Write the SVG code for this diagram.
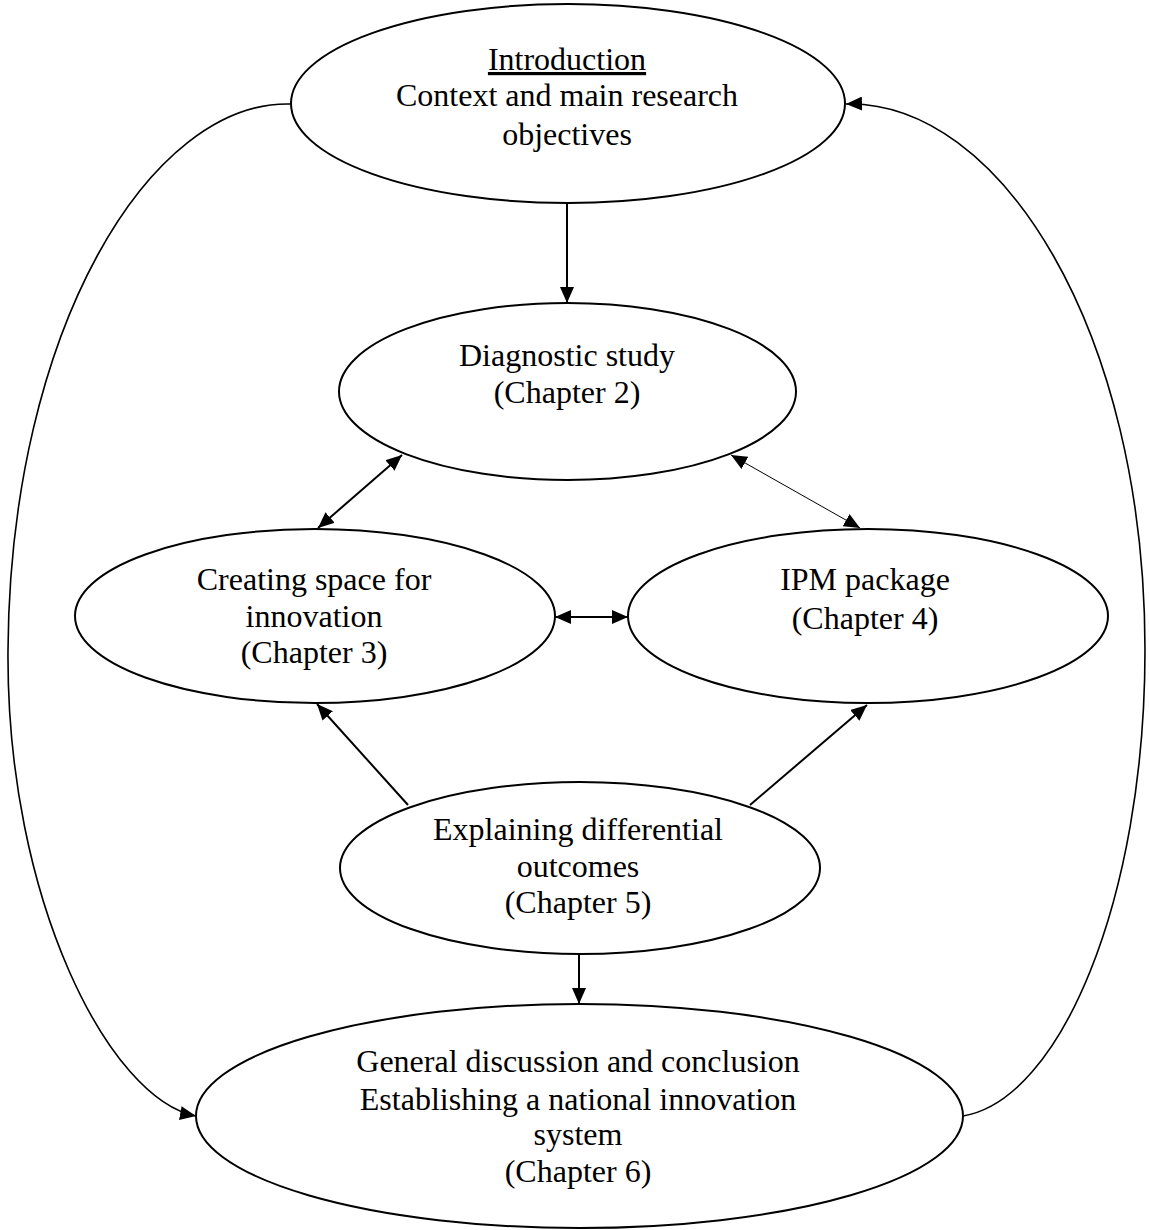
<svg xmlns="http://www.w3.org/2000/svg" width="1149" height="1230" viewBox="0 0 1149 1230">
  <style>
    .node ellipse { fill: #ffffff; stroke: #000000; stroke-width: 2; }
    .node text { font-family: "Liberation Serif", "Times New Roman", serif; font-size: 32px; fill: #000000; text-anchor: middle; }
    .edge { fill: none; stroke: #000000; stroke-width: 2; }
    .thin { stroke-width: 1; }
    .loop { stroke-width: 1.6; }
  </style>
  <defs>
    <marker id="arrow" markerUnits="userSpaceOnUse" markerWidth="16" markerHeight="14" viewBox="0 0 16 14" refX="16" refY="7" orient="auto-start-reverse">
      <path d="M0,0 L16,7 L0,14 z" fill="#000000"/>
    </marker>
  </defs>

  <rect width="1149" height="1230" fill="#ffffff"/>

  <!-- connectors -->
  <g id="connectors">
    <!-- introduction to diagnostic study -->
    <line class="edge" x1="567" y1="203" x2="567" y2="303" marker-end="url(#arrow)"/>
    <!-- diagnostic study <-> creating space -->
    <line class="edge" x1="402" y1="455" x2="318" y2="528" marker-start="url(#arrow)" marker-end="url(#arrow)"/>
    <!-- diagnostic study <-> IPM package -->
    <line class="edge thin" x1="731" y1="455" x2="860" y2="528" marker-start="url(#arrow)" marker-end="url(#arrow)"/>
    <!-- creating space <-> IPM package -->
    <line class="edge" x1="555" y1="617" x2="628" y2="617" marker-start="url(#arrow)" marker-end="url(#arrow)"/>
    <!-- differential outcomes to chapters 3 and 4 -->
    <line class="edge" x1="408" y1="805" x2="317" y2="704" marker-end="url(#arrow)"/>
    <line class="edge" x1="750" y1="805" x2="867" y2="705" marker-end="url(#arrow)"/>
    <!-- differential outcomes to general discussion -->
    <line class="edge" x1="579" y1="954" x2="579" y2="1004" marker-end="url(#arrow)"/>
    <!-- outer loop: introduction to general discussion -->
    <path class="edge loop" d="M291,104 C150,100 10,330 8,650 C6,900 110,1100 196,1116" marker-end="url(#arrow)"/>
    <!-- outer loop: general discussion back to introduction -->
    <path class="edge loop" d="M963,1116 C1060,1100 1145,900 1145,650 C1145,330 1000,100 846,104" marker-end="url(#arrow)"/>
  </g>

  <!-- nodes -->
  <g id="introduction" class="node">
    <ellipse cx="568" cy="103.5" rx="277" ry="99.5"/>
    <text x="567" y="70" text-decoration="underline">Introduction</text>
    <text x="567" y="106">Context and main research</text>
    <text x="567" y="145">objectives</text>
  </g>

  <g id="diagnostic" class="node">
    <ellipse cx="567.5" cy="391.5" rx="228.5" ry="88.5"/>
    <text x="567" y="366">Diagnostic study</text>
    <text x="567" y="403">(Chapter 2)</text>
  </g>

  <g id="creating-space" class="node">
    <ellipse cx="315" cy="616" rx="240" ry="87"/>
    <text x="314" y="590">Creating space for</text>
    <text x="314" y="627">innovation</text>
    <text x="314" y="663">(Chapter 3)</text>
  </g>

  <g id="ipm-package" class="node">
    <ellipse cx="868" cy="616" rx="240" ry="87"/>
    <text x="865" y="590">IPM package</text>
    <text x="865" y="629">(Chapter 4)</text>
  </g>

  <g id="differential-outcomes" class="node">
    <ellipse cx="580" cy="868" rx="240" ry="86"/>
    <text x="578" y="840">Explaining differential</text>
    <text x="578" y="877">outcomes</text>
    <text x="578" y="913">(Chapter 5)</text>
  </g>

  <g id="general-discussion" class="node">
    <ellipse cx="579.5" cy="1116" rx="383.5" ry="112"/>
    <text x="578" y="1072">General discussion and conclusion</text>
    <text x="578" y="1110">Establishing a national innovation</text>
    <text x="578" y="1145">system</text>
    <text x="578" y="1182">(Chapter 6)</text>
  </g>
</svg>
